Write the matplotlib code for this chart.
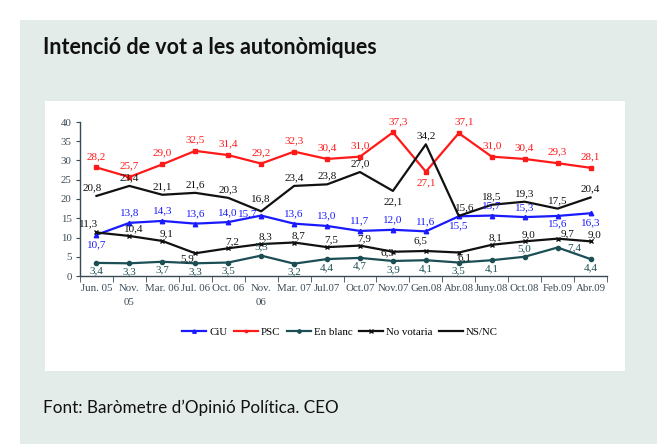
import matplotlib
matplotlib.use("Agg")
import matplotlib.pyplot as plt
from matplotlib.patches import Rectangle

categories = ["Jun. 05", "Nov.\n05", "Mar. 06", "Jul. 06", "Oct. 06", "Nov.\n06",
              "Mar. 07", "Jul.07", "Oct.07", "Nov.07", "Gen.08", "Abr.08",
              "Juny.08", "Oct.08", "Feb.09", "Abr.09"]
ciu = [10.7, 13.8, 14.3, 13.6, 14.0, 15.7, 13.6, 13.0, 11.7, 12.0, 11.6, 15.5, 15.7, 15.3, 15.6, 16.3]
psc = [28.2, 25.7, 29.0, 32.5, 31.4, 29.2, 32.3, 30.4, 31.0, 37.3, 27.1, 37.1, 31.0, 30.4, 29.3, 28.1]
en_blanc = [3.4, 3.3, 3.7, 3.3, 3.5, 5.3, 3.2, 4.4, 4.7, 3.9, 4.1, 3.5, 4.1, 5.0, 7.4, 4.4]
no_votaria = [11.3, 10.4, 9.1, 5.9, 7.2, 8.3, 8.7, 7.5, 7.9, 6.3, 6.5, 6.1, 8.1, 9.0, 9.7, 9.0]
nsnc = [20.8, 23.4, 21.1, 21.6, 20.3, 16.8, 23.4, 23.8, 27.0, 22.1, 34.2, 15.6, 18.5, 19.3, 17.5, 20.4]
series_names = ["CiU", "PSC", "En blanc", "No votaria", "NS/NC"]

W, H = 657, 444
fig = plt.figure(figsize=(W / 100, H / 100), dpi=100)
fig.patch.set_facecolor("white")

def px_rect(x0, y0, x1, y1, color):
    fig.patches.append(Rectangle((x0 / W, 1 - y1 / H), (x1 - x0) / W, (y1 - y0) / H,
                                 transform=fig.transFigure, facecolor=color,
                                 edgecolor="none", zorder=-10))

px_rect(20, 20, W, H, "#e4ece9")
px_rect(45, 101, 625, 371, "white")

fig.text(43 / W, 1 - 48 / H, "Intenció de vot a les autonòmiques", fontfamily="Lato",
         fontweight="bold", fontsize=15.5, va="center", ha="left", color="#111111")
fig.text(43 / W, 1 - 408 / H, "Font: Baròmetre d\u2019Opinió Política. CEO", fontfamily="Lato",
         fontsize=12.3, va="center", ha="left", color="#111111")

ax_l, ax_r, ax_t, ax_b = 80, 607, 122, 276
ax = fig.add_axes([ax_l / W, 1 - ax_b / H, (ax_r - ax_l) / W, (ax_b - ax_t) / H])
ax.set_facecolor("none")

x = list(range(len(categories)))
axis_col = "#3a4a55"
serif = "Liberation Serif"

styles = [
    (ciu, "#1a1aff", "^", 3.2, series_names[0]),
    (psc, "#ff1a1a", "s", 2.2, series_names[1]),
    (en_blanc, "#1c4f55", "o", 3, series_names[2]),
    (no_votaria, "#111111", "x", 3.5, series_names[3]),
    (nsnc, "#111111", None, 0, series_names[4]),
]
for vals, col, mk, ms, name in styles:
    ax.plot(x, vals, color=col, lw=1.6, marker=mk, ms=ms, mew=1.0, label=name, zorder=3)

def fmt(v):
    return f"{v:.1f}".replace(".", ",")

def labels(vals, col, offs):
    for i, v in enumerate(vals):
        dx, dy = offs(i)
        ax.annotate(fmt(v), (i, v), xytext=(dx, dy), textcoords="offset points",
                    ha="center", va="center", fontsize=8, fontfamily=serif,
                    color=col, zorder=4)

def ciu_off(i):
    if i == 14:
        return (0, -5.5)
    if i in (0, 11, 15):
        return (0, -7)
    if i == 5:
        return (-10, 1)
    return (0, 7)
labels(ciu, "#1a1aff", ciu_off)
labels(psc, "#ff1a1a", lambda i: (0, -8) if i == 10 else ((4, 8) if i in (9, 11) else (0, 8)))
labels(en_blanc, "#1c4f55",
       lambda i: (0, 6) if i in (5, 13) else ((12, 0) if i == 14 else (0, -6)))

def ns_off(i):
    if i == 9:
        return (0, -8)
    if i == 0:
        return (-3, 6)
    if i == 11:
        return (4, 6)
    if i == 5:
        return (0, 9)
    return (0, 6)
labels(nsnc, "#111111", ns_off)

def nv_off(i):
    if i == 0:
        return (-6, 6)
    if i == 3:
        return (-6, -4)
    if i == 9:
        return (-4, -1)
    if i == 10:
        return (-4, 7)
    if i == 11:
        return (4, -4)
    if i == 14:
        return (7, 3.5)
    return (3, 5)
labels(no_votaria, "#111111", nv_off)

ax.set_xlim(-0.5, len(categories) - 0.5)
ax.set_ylim(0, 40)
ax.set_yticks(range(0, 41, 5))
ax.set_xticks(x)
ax.set_xticklabels(categories, fontfamily=serif, fontsize=7.8, color=axis_col,
                   linespacing=1.6, va="top")
ax.set_xticks([i - 0.5 for i in range(len(categories) + 1)], minor=True)
ax.tick_params(axis="x", which="major", length=0, pad=6)
ax.tick_params(axis="x", which="minor", length=4, direction="out", color=axis_col)
ax.tick_params(axis="y", length=3, direction="out", color=axis_col, labelcolor=axis_col,
               labelsize=7.8, pad=3)
for lab in ax.get_yticklabels():
    lab.set_fontfamily(serif)
for s in ("top", "right"):
    ax.spines[s].set_visible(False)
for s in ("left", "bottom"):
    ax.spines[s].set_color(axis_col)
    ax.spines[s].set_linewidth(1.0)

handles, labs = ax.get_legend_handles_labels()
leg = fig.legend(handles, labs, loc="center", bbox_to_anchor=(340 / W, 1 - 332 / H),
                 ncol=5, frameon=False, prop={"family": serif, "size": 7.8},
                 handlelength=2.2, handletextpad=0.3, columnspacing=0.6, markerscale=0.8)

fig.savefig("out.png", dpi=100, facecolor=fig.get_facecolor())
